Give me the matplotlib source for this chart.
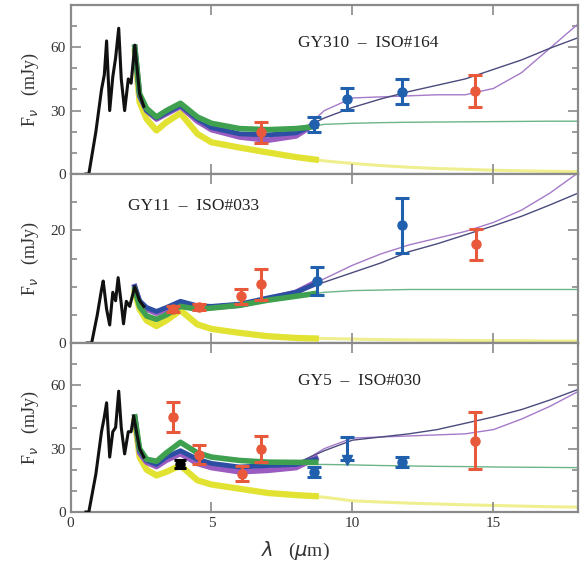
import matplotlib
matplotlib.use('Agg')
import matplotlib.pyplot as plt
from matplotlib.ticker import MultipleLocator, NullFormatter

plt.rcParams['font.family'] = ['Liberation Serif', 'DejaVu Serif']

# ---------------- data ----------------
band_wl = [2.28, 2.45, 2.7, 3.05, 3.4, 3.9, 4.5, 5.0, 6.0, 7.0, 8.0, 8.7]
long_wl = [8.0, 9.0, 10.0, 11.0, 12.0, 13.0, 14.0, 15.0, 16.0, 17.0, 18.0]

# Panel 1: GY310 - ISO#164
p1_title = "GY310  \u2013  ISO#164"
p1_phot_wl = [0.55, 0.65, 0.9, 1.1, 1.2, 1.28, 1.39, 1.5, 1.6, 1.71, 1.8, 1.92, 2.05, 2.15, 2.28, 2.45, 2.6]
p1_phot = [0, 0, 20, 40, 47, 63, 30, 46, 55, 69, 45, 30, 45, 43, 61, 38, 32]
p1_green = [60, 38, 31, 27, 30, 33.5, 27, 24, 21.5, 21, 21.5, 22.5]
p1_blue = [60, 37, 30, 26.5, 29, 32.5, 26, 22, 19, 18.5, 19.5, 23.5]
p1_purple = [60, 37, 30, 26, 28.5, 32, 25, 21, 17.5, 16, 18, 24]
p1_yellow = [58, 34, 26, 20.6, 24.5, 28.8, 19, 15, 12.5, 10.2, 8, 6.8]
p1_dark_long = [20, 26.5, 31.5, 35.5, 39, 42, 45, 49.5, 54, 59.5, 64.5]
p1_purple_long = [18, 30, 36, 36.5, 37, 37.5, 37.5, 40.5, 48, 59.5, 71]
p1_green_long = [21.5, 23.5, 24, 24.3, 24.5, 24.6, 24.7, 24.8, 24.9, 25, 25]
p1_yellow_long = [8, 6.2, 5, 4, 3.2, 2.6, 2.2, 1.8, 1.5, 1.3, 1.1]
p1_red_x = [6.75, 14.35]
p1_red_y = [19.7, 39.4]
p1_red_err = [5, 7.5]
p1_blue_x = [8.65, 9.82, 11.74]
p1_blue_y = [23.5, 35.5, 38.9]
p1_blue_err = [3.5, 5, 6]

# Panel 2: GY11 - ISO#033
p2_title = "GY11  \u2013  ISO#033"
p2_phot_wl = [0.6, 0.75, 0.95, 1.1, 1.16, 1.28, 1.39, 1.5, 1.6, 1.69, 1.8, 1.88, 1.98, 2.1, 2.28, 2.45, 2.6]
p2_phot = [0, 0, 5, 9.5, 11, 6, 3.2, 9, 7.5, 11.6, 7, 3.4, 7.4, 6.5, 10, 7.5, 6.5]
p2_green = [9.5, 6.5, 4.8, 4.2, 5.0, 6.5, 6.0, 6.2, 6.7, 7.6, 8.3, 8.8]
p2_blue = [10, 7.5, 6.3, 5.6, 6.3, 7.4, 6.6, 6.5, 6.9, 8.0, 9.0, 10.5]
p2_purple = [10, 7.3, 6.0, 5.3, 6.0, 7.2, 6.4, 6.3, 6.7, 7.8, 9.0, 10.8]
p2_yellow = [9, 6, 4.0, 3.0, 4.0, 5.8, 3.3, 2.5, 1.8, 1.2, 0.9, 0.8]
p2_dark_long = [9.2, 10.8, 12.5, 14.2, 16.2, 17.6, 19.2, 20.8, 22.5, 24.5, 26.6]
p2_purple_long = [9.4, 11.4, 13.8, 15.8, 17.4, 18.6, 19.8, 21.4, 23.6, 26.6, 30.2]
p2_green_long = [8.3, 9.0, 9.3, 9.4, 9.5, 9.5, 9.5, 9.5, 9.5, 9.5, 9.5]
p2_yellow_long = [0.9, 0.8, 0.7, 0.6, 0.55, 0.5, 0.45, 0.4, 0.4, 0.35, 0.35]
p2_red_x = [3.63, 4.55, 6.05, 6.75, 14.37]
p2_red_y = [6.0, 6.4, 8.3, 10.4, 17.5]
p2_red_err = [0.5, 0.5, 1.3, 2.7, 2.8]
p2_blue_x = [8.74, 11.75]
p2_blue_y = [11.0, 20.9]
p2_blue_err = [2.5, 4.9]

# Panel 3: GY5 - ISO#030
p3_title = "GY5  \u2013  ISO#030"
p3_phot_wl = [0.55, 0.65, 0.9, 1.1, 1.2, 1.28, 1.39, 1.5, 1.6, 1.71, 1.8, 1.92, 2.05, 2.15, 2.24, 2.45, 2.6]
p3_phot = [0, 0, 18, 38, 45, 51.7, 26, 38, 40, 57.2, 40, 27.5, 38, 38, 45.5, 30, 26]
p3_green = [45, 30, 25, 24, 28, 33, 28, 26, 24.4, 23.6, 23.5, 23.5]
p3_blue = [45, 29, 24.4, 22.5, 26, 29, 25, 23, 21.3, 22, 22.5, 25]
p3_purple = [45, 28, 23.5, 21.5, 24.5, 27.6, 23, 21, 19, 19.7, 21, 25.5]
p3_yellow = [43, 26, 20, 17.3, 19, 22, 15, 13, 11, 9, 8, 7.5]
p3_dark_long = [23, 29, 34, 35.5, 37, 39, 42, 45, 48.5, 53, 58]
p3_purple_long = [22, 30, 35, 35.5, 36, 36.5, 37, 39, 44, 50, 57]
p3_green_long = [22.5, 22.5, 22.3, 22, 21.8, 21.6, 21.5, 21.3, 21.2, 21.1, 21]
p3_yellow_long = [8, 7, 5.3, 4.7, 4.2, 3.8, 3.4, 3.1, 2.8, 2.5, 2.3]
p3_red_x = [3.63, 4.54, 6.08, 6.75, 14.35]
p3_red_y = [45, 27.2, 18.1, 29.8, 33.7]
p3_red_err = [7, 4.5, 3.5, 6, 13.5]
p3_blue_x = [8.64, 11.74]
p3_blue_y = [18.9, 23.6]
p3_blue_err = [2.5, 2.5]
p3_ul_x = [9.82]
p3_ul_y = [24.4]
p3_ul_up = [10.9]
p3_black_x = [3.87]
p3_black_y = [22.8]
p3_black_err = [2.0]

y_limits = [80, 30, 80]
y_major = [30, 20, 30]
y_minor = [10, 5, 10]
x_ticks = [0, 5, 10, 15]

# ---------------- styling ----------------
C_GREEN = '#3fa050'
C_BLUE = '#2c4fa3'
C_PURPLE = '#9a5cc0'
C_YELLOW = '#e2e233'
C_DARK = '#4b4b7e'
C_PURPLE_T = '#a57ac8'
C_GREEN_T = '#6db488'
C_RED = '#e8593c'
C_PTBLUE = '#2060ad'
SPINE = '#8a8a8a'

fig = plt.figure(figsize=(5.87, 5.62), dpi=100)
left, right = 70.5 / 587, 578 / 587
top_px, bot_px = 5, 512
h = (bot_px - top_px) / 3 / 562

panels = [
    dict(title=p1_title, tpos=(0.448, 0.774), pwl=p1_phot_wl, phot=p1_phot,
         green=p1_green, blue=p1_blue, purple=p1_purple, yellow=p1_yellow,
         dl=p1_dark_long, pl=p1_purple_long, gl=p1_green_long, yl=p1_yellow_long,
         rx=p1_red_x, ry=p1_red_y, re=p1_red_err, bx=p1_blue_x, by=p1_blue_y, be=p1_blue_err),
    dict(title=p2_title, tpos=(0.113, 0.81), pwl=p2_phot_wl, phot=p2_phot,
         green=p2_green, blue=p2_blue, purple=p2_purple, yellow=p2_yellow,
         dl=p2_dark_long, pl=p2_purple_long, gl=p2_green_long, yl=p2_yellow_long,
         rx=p2_red_x, ry=p2_red_y, re=p2_red_err, bx=p2_blue_x, by=p2_blue_y, be=p2_blue_err),
    dict(title=p3_title, tpos=(0.448, 0.776), pwl=p3_phot_wl, phot=p3_phot,
         green=p3_green, blue=p3_blue, purple=p3_purple, yellow=p3_yellow,
         dl=p3_dark_long, pl=p3_purple_long, gl=p3_green_long, yl=p3_yellow_long,
         rx=p3_red_x, ry=p3_red_y, re=p3_red_err, bx=p3_blue_x, by=p3_blue_y, be=p3_blue_err),
]

axes = []
for i, p in enumerate(panels):
    b = 1 - (top_px / 562) - (i + 1) * h
    ax = fig.add_axes([left, b, right - left, h])
    axes.append(ax)

    # thin long-wavelength models
    ax.plot(long_wl, p['yl'], color=C_YELLOW, lw=2.2, alpha=0.55, zorder=1, solid_capstyle='round')
    ax.plot(long_wl, p['gl'], color=C_GREEN_T, lw=1.0, zorder=2)
    ax.plot(long_wl, p['pl'], color=C_PURPLE_T, lw=1.0, zorder=2)
    ax.plot(long_wl, p['dl'], color=C_DARK, lw=1.0, zorder=2)

    # model bands
    ax.plot(band_wl, p['yellow'], color=C_YELLOW, lw=4.5, zorder=3, solid_joinstyle='round')
    ax.plot(band_wl, p['purple'], color=C_PURPLE, lw=4.0, zorder=3, solid_joinstyle='round')
    ax.plot(band_wl, p['blue'], color=C_BLUE, lw=3.5, zorder=3, solid_joinstyle='round')
    ax.plot(band_wl, p['green'], color=C_GREEN, lw=4.0, zorder=3, solid_joinstyle='round')

    # photosphere
    ax.plot(p['pwl'], p['phot'], color='#111111', lw=2.2, zorder=4)

    ekw = dict(fmt='o', ms=6.5, elinewidth=2.2, capsize=5, capthick=2.2, zorder=6)
    ax.errorbar(p['rx'], p['ry'], yerr=p['re'], color=C_RED, **ekw)
    ax.errorbar(p['bx'], p['by'], yerr=p['be'], color=C_PTBLUE, **ekw)

    if i == 2:
        ax.errorbar(p3_ul_x, p3_ul_y, yerr=[[0], p3_ul_up], fmt='v', ms=7,
                    elinewidth=2.2, capsize=5, capthick=2.2, color=C_PTBLUE, zorder=6)
        ax.errorbar(p3_black_x, p3_black_y, yerr=p3_black_err, fmt='o', ms=6.5,
                    elinewidth=2.2, capsize=4, capthick=2.2, color='black', zorder=7)

    ax.text(p['tpos'][0], p['tpos'][1], p['title'], transform=ax.transAxes,
            fontsize=12.5, color='#222222', ha='left', va='center')

    ax.set_xlim(0, 18)
    ax.set_ylim(0, y_limits[i])
    ax.set_xticks(x_ticks)
    ax.yaxis.set_major_locator(MultipleLocator(y_major[i]))
    ax.yaxis.set_minor_locator(MultipleLocator(y_minor[i]))
    ax.tick_params(which='both', direction='in', top=True, right=True,
                   color=SPINE, labelcolor='#333333', labelsize=11, width=1.2)
    ax.tick_params(which='major', length=7)
    ax.tick_params(which='minor', length=4)
    for s in ax.spines.values():
        s.set_color(SPINE)
        s.set_linewidth(1.6)
    ax.set_ylabel(r'F$_\nu$   (mJy)', fontsize=13, color='#333333', labelpad=7)
    if i < 2:
        ax.xaxis.set_major_formatter(NullFormatter())

axes[2].set_xlabel(r'$\lambda$   ($\mu$m)', fontsize=14, color='#333333')
axes[2].xaxis.set_label_coords(0.444, -0.165)

fig.savefig('out.png', dpi=100)
